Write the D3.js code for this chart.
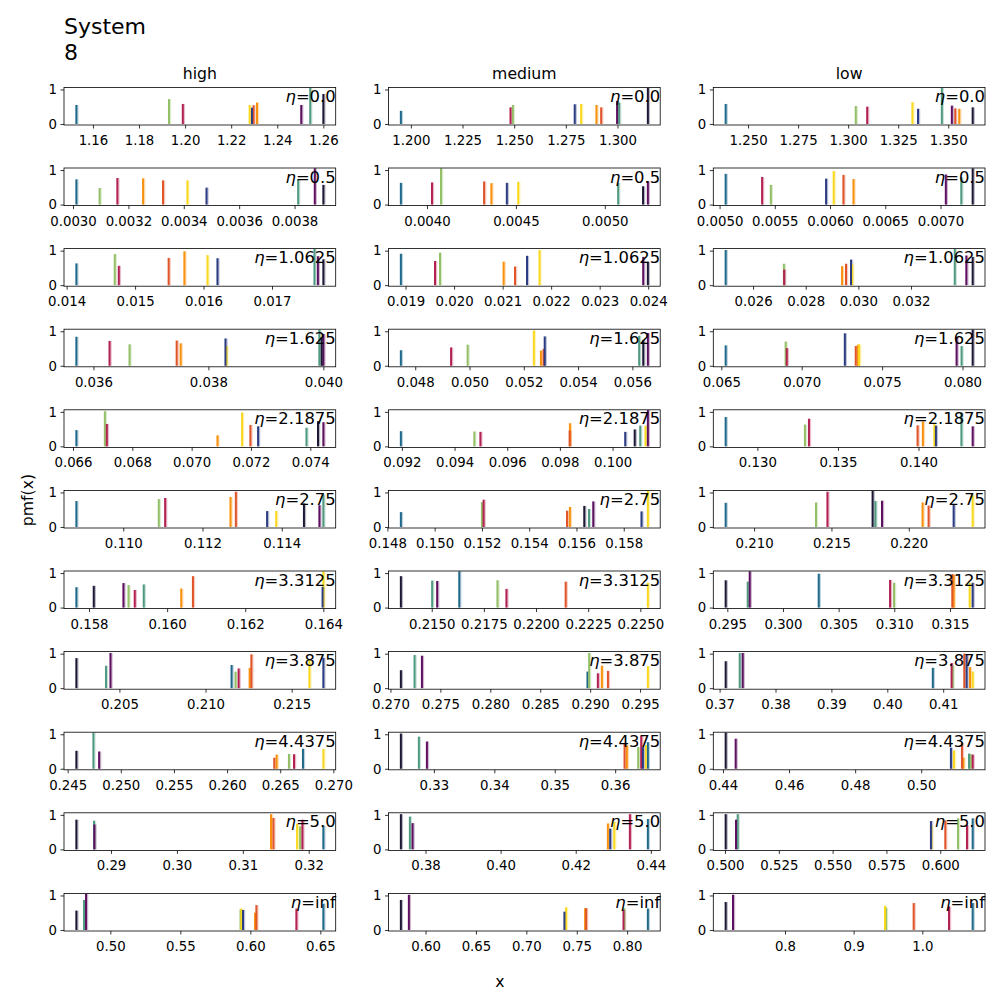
<!DOCTYPE html>
<html>
<head>
<meta charset="utf-8">
<script src="https://cdn.jsdelivr.net/npm/d3@7"></script>
<style>
  body { margin: 0; background: #fff; }
  text { font-family: "DejaVu Sans", sans-serif; }
</style>
</head>
<body>
<svg id="chart" width="1000" height="1000"></svg>
<script>
// row labels (eta) and column labels
const etaLabels = ["0.0", "0.5", "1.0625", "1.625", "2.1875", "2.75", "3.3125", "3.875", "4.4375", "5.0", "inf"];
const columns = ["high", "medium", "low"];

// series order: teal, green, crimson, orange, red-orange, yellow, navy, seagreen, purple, dark
const seriesColors = ["#21698a", "#93bf66", "#b22150", "#f8910d", "#e0542a", "#f9d81e", "#2b3c82", "#4f9a80", "#5e1060", "#1d1836"];

// ---- high ----
const highX = [
  [1.1528, 1.193, 1.199, 1.2312, 1.2297, 1.228, 1.229, 1.2543, 1.2504, 1.26],
  [0.003012, 0.003096, 0.00316, 0.003253, 0.003325, 0.003413, 0.003482, 0.003813, 0.003873, 0.003904],
  [0.014142, 0.014703, 0.014762, 0.01572, 0.01549, 0.016057, 0.016203, 0.01762, 0.01767, 0.01775],
  [0.035703, 0.036628, 0.03628, 0.037517, 0.037448, 0.038314, 0.038297, 0.03993, 0.04, 0.03997],
  [0.066113, 0.067073, 0.06714, 0.07087, 0.07198, 0.0717, 0.07224, 0.07387, 0.07444, 0.07426],
  [0.108816, 0.110896, 0.111057, 0.112706, 0.112841, 0.11386, 0.11363, 0.11505, 0.11495, 0.11456],
  [0.157675, 0.15901, 0.15917, 0.16036, 0.16066, 0.164, 0.16398, 0.1594, 0.15888, 0.15812],
  [0.21151, 0.21174, 0.21192, 0.21256, 0.21266, 0.21603, 0.21684, 0.20422, 0.20448, 0.2025],
  [0.26714, 0.26582, 0.2663, 0.26466, 0.26444, 0.26906, null, 0.24742, 0.24796, 0.245818],
  [0.32222, 0.31869, 0.31904, 0.31428, 0.31464, 0.31823, null, 0.28742, 0.28747, 0.28474],
  [0.65214, 0.593, 0.63286, 0.60333, 0.60428, 0.59357, 0.59476, 0.48119, 0.48262, 0.47571]
];
const highH = [
  [0.55, 0.72, 0.58, 0.62, 0.54, 0.55, 0.47, 1.05, 0.55, 0.87],
  [0.73, 0.48, 0.77, 0.76, 0.70, 0.70, 0.49, 0.74, 1.05, 0.57],
  [0.63, 0.90, 0.56, 0.98, 0.79, 0.87, 0.78, 1.05, 0.84, 0.75],
  [0.84, 0.62, 0.72, 0.65, 0.73, 0.57, 0.79, 1.05, 0.92, 0.83],
  [0.47, 1.02, 0.65, 0.32, 0.62, 0.98, 0.58, 0.54, 0.70, 0.73],
  [0.75, 0.81, 0.84, 0.87, 1.02, 0.46, 0.46, 0.94, 0.63, 0.68],
  [0.59, 0.65, 0.51, 0.55, 0.91, 1.05, 0.60, 0.67, 0.71, 0.63],
  [0.67, 0.48, 0.57, 0.59, 0.98, 0.83, 0.88, 0.65, 1.02, 0.87],
  [0.58, 0.43, 0.42, 0.41, 0.32, 0.57, null, 1.05, 0.50, 0.52],
  [0.69, 0.67, 0.86, 1.02, 0.91, 0.74, null, 0.83, 0.72, 0.86],
  [0.76, 0.60, 0.62, 0.50, 0.72, 0.62, 0.58, 0.87, 1.05, 0.56]
];
const highTicks = [
  ["1.16", "1.18", "1.20", "1.22", "1.24", "1.26"],
  ["0.0030", "0.0032", "0.0034", "0.0036", "0.0038"],
  ["0.014", "0.015", "0.016", "0.017"],
  ["0.036", "0.038", "0.040"],
  ["0.066", "0.068", "0.070", "0.072", "0.074"],
  ["0.110", "0.112", "0.114"],
  ["0.158", "0.160", "0.162", "0.164"],
  ["0.205", "0.210", "0.215"],
  ["0.245", "0.250", "0.255", "0.260", "0.265", "0.270"],
  ["0.29", "0.30", "0.31", "0.32"],
  ["0.50", "0.55", "0.60", "0.65"]
];

// ---- medium ----
const mediumX = [
  [1.19515, 1.24935, 1.24822, 1.2898, 1.2921, 1.2824, 1.2793, 1.3008, 1.2998, 1.3147],
  [0.003853, 0.004079, 0.004028, 0.004362, 0.004321, 0.004513, 0.004449, 0.005075, 0.005242, 0.005215],
  [0.018903, 0.01971, 0.019607, 0.02102, 0.021255, 0.02176, 0.021503, null, 0.023897, 0.023993],
  [0.04747, 0.04993, 0.04932, 0.05263, 0.05273, 0.05237, 0.05277, 0.05625, 0.05657, 0.0564],
  [0.09196, 0.09475, 0.09498, 0.09838, 0.09837, 0.10125, 0.10048, 0.10105, 0.10134, 0.10084],
  [0.14857, 0.152, 0.15207, 0.15572, 0.1556, 0.15902, 0.15875, 0.15653, 0.15671, 0.15633],
  [0.21632, 0.21815, 0.21858, null, 0.22142, 0.22536, null, 0.21502, 0.21526, 0.21352],
  [0.28973, 0.2899, 0.29077, 0.29117, 0.29178, 0.29578, null, 0.27241, 0.27315, 0.27104],
  [0.36541, 0.36381, 0.36431, 0.36193, 0.36155, 0.36508, 0.36459, 0.32751, 0.32884, 0.32453],
  [0.43921, null, 0.43442, 0.42856, null, 0.43025, 0.42918, 0.37583, 0.37654, 0.37343],
  [0.82053, 0.797, 0.79636, 0.75828, 0.75927, 0.7394, 0.73775, null, 0.58344, 0.5755]
];
const mediumH = [
  [0.38, 0.55, 0.48, 0.55, 0.48, 0.58, 0.57, 0.62, 0.67, 1.05],
  [0.63, 1.05, 0.64, 0.62, 0.67, 0.66, 0.63, 0.63, 0.68, 0.53],
  [0.91, 0.94, 0.70, 0.68, 0.54, 1.02, 0.85, null, 0.82, 0.68],
  [0.45, 0.61, 0.53, 0.44, 0.49, 1.02, 0.85, 0.87, 0.95, 0.75],
  [0.44, 0.43, 0.42, 0.67, 0.46, 0.60, 0.42, 0.60, 1.05, 0.49],
  [0.43, 0.72, 0.79, 0.58, 0.47, 1.05, 0.45, 0.52, 0.74, 0.61],
  [1.05, 0.79, 0.54, null, 0.75, 0.72, null, 0.78, 0.77, 0.91],
  [0.48, 1.02, 0.43, 0.65, 0.50, 0.64, null, 0.96, 0.94, 0.52],
  [0.77, 0.63, 0.95, 0.68, 0.72, 0.69, 0.63, 0.93, 0.79, 1.02],
  [0.88, null, 1.02, 0.75, null, 0.80, 0.60, 0.95, 0.76, 1.02],
  [0.62, 0.63, 0.58, 0.63, 0.63, 0.66, 0.53, null, 1.02, 0.87]
];
const mediumTicks = [
  ["1.200", "1.225", "1.250", "1.275", "1.300"],
  ["0.0040", "0.0045", "0.0050"],
  ["0.019", "0.020", "0.021", "0.022", "0.023", "0.024"],
  ["0.048", "0.050", "0.052", "0.054", "0.056"],
  ["0.092", "0.094", "0.096", "0.098", "0.100"],
  ["0.148", "0.150", "0.152", "0.154", "0.156", "0.158"],
  ["0.2150", "0.2175", "0.2200", "0.2225", "0.2250"],
  ["0.270", "0.275", "0.280", "0.285", "0.290", "0.295"],
  ["0.33", "0.34", "0.35", "0.36"],
  ["0.38", "0.40", "0.42", "0.44"],
  ["0.60", "0.65", "0.70", "0.75", "0.80"]
];

// ---- low ----
const lowX = [
  [1.2388, 1.3038, 1.3095, 1.3555, 1.3535, 1.3321, 1.3349, 1.3468, 1.3518, 1.3622],
  [0.005055, 0.005464, 0.005385, 0.006212, 0.006121, 0.006033, 0.005964, 0.007188, 0.007048, 0.007291],
  [0.024959, 0.02717, 0.02718, 0.02938, 0.02953, 0.02976, 0.02972, 0.03366, 0.0341, 0.03434],
  [0.06527, 0.069, 0.06907, 0.07349, 0.07336, 0.07357, 0.07268, 0.07994, 0.07963, 0.08063],
  [0.12803, 0.13295, 0.1332, 0.14027, 0.13994, 0.14098, 0.14108, 0.14266, 0.14336, null],
  [0.20816, 0.214, 0.21474, 0.22089, 0.22128, 0.22413, 0.2229, 0.21784, 0.21827, 0.21766],
  [0.30321, 0.30998, 0.30962, 0.31533, 0.31521, 0.31677, 0.31704, 0.29683, 0.29701, 0.29485],
  [0.40814, 0.41168, 0.4115, 0.41479, 0.41377, 0.41527, 0.41419, 0.37359, 0.37413, 0.37108],
  [null, 0.51497, 0.51557, 0.51274, 0.51233, 0.5099, 0.50899, 0.51446, 0.44384, 0.44081],
  [0.61504, 0.60822, 0.6124, null, 0.60233, 0.59581, 0.59566, 0.50589, 0.50512, 0.50031],
  [1.0733, 0.9471, 1.03883, null, 0.98738, 0.94563, null, null, 0.72427, 0.71359]
];
const lowH = [
  [0.58, 0.52, 0.50, 0.44, 0.45, 0.63, 0.44, 1.05, 0.53, 0.48],
  [0.89, 0.57, 0.80, 0.74, 0.86, 0.97, 0.75, 0.79, 0.87, 1.05],
  [1.02, 0.62, 0.45, 0.55, 0.62, 0.60, 0.74, 1.05, 0.86, 0.82],
  [0.59, 0.70, 0.51, 0.61, 0.57, 0.62, 0.94, 0.57, 0.83, 1.05],
  [0.85, 0.63, 0.80, 0.72, 0.61, 0.64, 0.60, 0.98, 0.58, null],
  [0.70, 0.71, 1.02, 0.71, 0.62, 0.92, 0.64, 0.75, 0.76, 1.05],
  [0.98, 0.72, 0.80, 0.95, 0.97, 0.72, 0.72, 0.75, 1.05, 0.79],
  [0.59, 0.65, 0.73, 0.61, 1.0, 0.48, 0.98, 1.02, 1.02, 0.78],
  [null, 0.42, 0.41, 0.32, 0.75, 0.53, 0.61, 0.44, 0.87, 1.05],
  [0.90, 0.90, 0.70, null, 0.84, 0.70, 0.82, 1.02, 0.86, 1.02],
  [0.78, 0.64, 0.68, null, 0.78, 0.70, null, null, 1.02, 0.81]
];
const lowTicks = [
  ["1.250", "1.275", "1.300", "1.325", "1.350"],
  ["0.0050", "0.0055", "0.0060", "0.0065", "0.0070"],
  ["0.026", "0.028", "0.030", "0.032"],
  ["0.065", "0.070", "0.075", "0.080"],
  ["0.130", "0.135", "0.140"],
  ["0.210", "0.215", "0.220"],
  ["0.295", "0.300", "0.305", "0.310", "0.315"],
  ["0.37", "0.38", "0.39", "0.40", "0.41"],
  ["0.44", "0.46", "0.48", "0.50"],
  ["0.500", "0.525", "0.550", "0.575", "0.600"],
  ["0.8", "0.9", "1.0"]
];

const panels = [
  {x: highX, h: highH, ticks: highTicks},
  {x: mediumX, h: mediumH, ticks: mediumTicks},
  {x: lowX, h: lowH, ticks: lowTicks}
];

// layout (pixels)
const colLeft = [64, 388.5, 713.3];
const panelW = 271.7, panelH = 37.6;
const rowTop0 = 87.4, rowStep = 80.6;

const svg = d3.select('#chart');

// title
svg.append('text').attr('x', 64).attr('y', 34).attr('font-size', '22px').text('System');
svg.append('text').attr('x', 64).attr('y', 60).attr('font-size', '22px').text('8');

columns.forEach((name, c) => {
    svg.append('text')
        .attr('x', colLeft[c] + panelW / 2)
        .attr('y', 79)
        .attr('text-anchor', 'middle')
        .attr('font-size', '15.7px')
        .text(name);
});

svg.append('text')
    .attr('transform', 'translate(33,500) rotate(-90)')
    .attr('text-anchor', 'middle')
    .attr('font-size', '15.7px')
    .text('pmf(x)');
svg.append('text')
    .attr('x', 500).attr('y', 987)
    .attr('text-anchor', 'middle')
    .attr('font-size', '15.7px')
    .text('x');

const yScale = d3.scaleLinear().domain([-0.03, 1.06]).range([panelH, 0]);

panels.forEach((col, c) => {
    etaLabels.forEach((eta, r) => {
        const xs = col.x[r], hs = col.h[r];
        const pts = xs.map((v, i) => ({x: v, h: hs[i], color: seriesColors[i]}))
            .filter(d => d.x !== null);

        // matplotlib-style 5% margins
        const ext = d3.extent(pts, d => d.x);
        const pad = (ext[1] - ext[0]) * 0.05;
        const xScale = d3.scaleLinear().domain([ext[0] - pad, ext[1] + pad]).range([0, panelW]);

        const g = svg.append('g')
            .attr('transform', `translate(${colLeft[c]},${rowTop0 + r * rowStep})`);

        const clipId = `clip-${c}-${r}`;
        g.append('clipPath').attr('id', clipId)
            .append('rect').attr('width', panelW).attr('height', panelH);

        const stems = g.append('g').attr('clip-path', `url(#${clipId})`);
        stems.selectAll('.stem-shade')
            .data(pts)
            .join('rect')
                .attr('class', 'stem-shade')
                .attr('x', d => xScale(d.x))
                .attr('width', 2.2)
                .attr('y', d => yScale(d.h))
                .attr('height', d => yScale(0) - yScale(d.h))
                .attr('fill', d => d.color)
                .attr('opacity', 0.3);
        stems.selectAll('.stem')
            .data(pts)
            .join('rect')
                .attr('class', 'stem')
                .attr('x', d => xScale(d.x) - 1)
                .attr('width', 2)
                .attr('y', d => yScale(d.h))
                .attr('height', d => yScale(0) - yScale(d.h))
                .attr('fill', d => d.color);

        const ticks = col.ticks[r];
        const xAxis = g.append('g')
            .attr('transform', `translate(0,${panelH})`)
            .call(d3.axisBottom(xScale)
                .tickValues(ticks.map(Number))
                .tickFormat((d, i) => ticks[i])
                .tickSize(3.5)
                .tickPadding(7));
        const yAxis = g.append('g')
            .call(d3.axisLeft(yScale)
                .tickValues([0, 1])
                .tickFormat(d3.format('d'))
                .tickSize(3.5)
                .tickPadding(3.5));
        [xAxis, yAxis].forEach(a => {
            a.select('.domain').remove();
            a.selectAll('text').attr('font-size', '13.3px').attr('fill', '#000')
                .attr('font-family', '"DejaVu Sans", sans-serif');
            a.selectAll('line').attr('stroke', '#000').attr('stroke-width', 0.8);
        });

        g.append('rect')
            .attr('width', panelW).attr('height', panelH)
            .attr('fill', 'none').attr('stroke', '#000').attr('stroke-width', 0.8);

        const lab = g.append('text')
            .attr('x', panelW)
            .attr('y', 14.5)
            .attr('text-anchor', 'end')
            .attr('font-size', '16.4px');
        lab.append('tspan').attr('font-style', 'italic').text('η');
        lab.append('tspan').text('=' + eta);
    });
});
</script>
</body>
</html>
